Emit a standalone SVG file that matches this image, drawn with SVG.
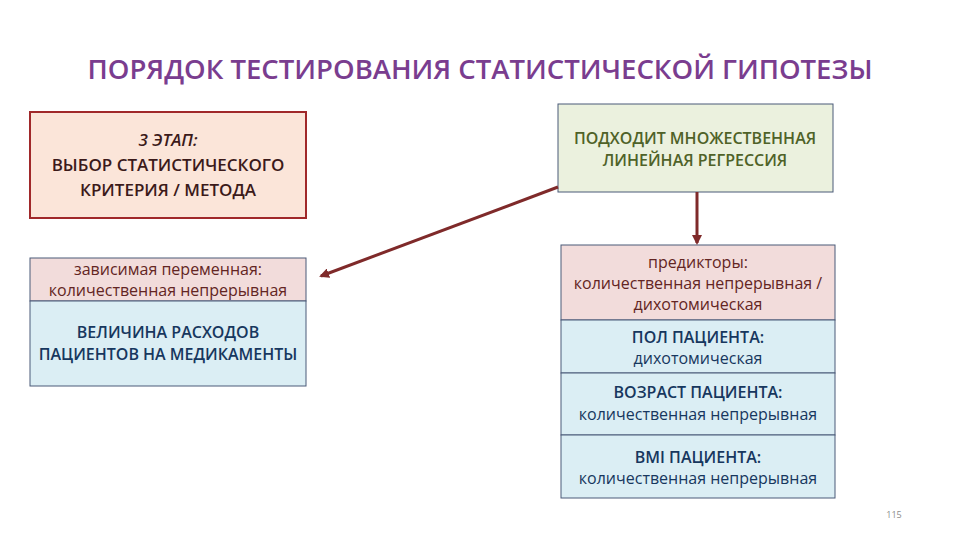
<svg xmlns="http://www.w3.org/2000/svg" width="960" height="540" viewBox="0 0 960 540">
<defs>
<marker id="ah" markerWidth="10" markerHeight="10" refX="8" refY="5" orient="auto" markerUnits="userSpaceOnUse"><path d="M0,0 L10,5 L0,10 z" fill="#7f2a2a"/></marker>
<style>
text{font-family:"Open Sans","Liberation Sans",sans-serif;text-anchor:middle}
.t{font-size:27.5px;font-weight:600;fill:#7a3d8f}
.b{font-size:16px;font-weight:600}
.s{font-size:17px}
.n{font-size:16px}
.br{fill:#3b1a1a}
.rd{fill:#632523}
.nv{fill:#17375e}
.ol{fill:#4f6228}
.pk{fill:#f2dcdb;stroke:#4a5a78;stroke-width:1}
.bl{fill:#dbeef4;stroke:#4a5a78;stroke-width:1}
.cn{stroke:#7f2a2a;stroke-width:3;fill:none}
</style>
</defs>
<rect width="960" height="540" fill="#fff"/>
<text class="t" x="480" y="79">ПОРЯДОК ТЕСТИРОВАНИЯ СТАТИСТИЧЕСКОЙ ГИПОТЕЗЫ</text>
<g id="stage3">
<rect x="30" y="112" width="276" height="106" fill="#fbe5d9" stroke="#a0282a" stroke-width="2"/>
<text class="b s br" x="168" y="146" font-style="italic">3 ЭТАП:</text>
<text class="b s br" x="168" y="171">ВЫБОР СТАТИСТИЧЕСКОГО</text>
<text class="b s br" x="168" y="196">КРИТЕРИЯ / МЕТОДА</text>
</g>
<g id="dependent">
<rect class="pk" x="30" y="258" width="276" height="43"/>
<rect class="bl" x="30" y="301" width="276" height="85"/>
<text class="n rd" x="168" y="275">зависимая переменная:</text>
<text class="n rd" x="168" y="296">количественная непрерывная</text>
<text class="b nv" x="168" y="338">ВЕЛИЧИНА РАСХОДОВ</text>
<text class="b nv" x="168" y="360">ПАЦИЕНТОВ НА МЕДИКАМЕНТЫ</text>
</g>
<g id="method">
<rect x="558" y="104" width="275" height="88" fill="#ebf1de" stroke="#4a5a78" stroke-width="1"/>
<text class="b ol" x="695" y="144">ПОДХОДИТ МНОЖЕСТВЕННАЯ</text>
<text class="b ol" x="695" y="166">ЛИНЕЙНАЯ РЕГРЕССИЯ</text>
</g>
<g id="predictors">
<rect class="pk" x="561" y="245" width="274" height="75"/>
<text class="n rd" x="698" y="268">предикторы:</text>
<text class="n rd" x="698" y="289">количественная непрерывная /</text>
<text class="n rd" x="698" y="310">дихотомическая</text>
</g>
<g id="sex">
<rect class="bl" x="561" y="320" width="274" height="53"/>
<text class="b nv" x="698" y="343">ПОЛ ПАЦИЕНТА:</text>
<text class="n nv" x="698" y="364">дихотомическая</text>
</g>
<g id="age">
<rect class="bl" x="561" y="373" width="274" height="62"/>
<text class="b nv" x="698" y="398">ВОЗРАСТ ПАЦИЕНТА:</text>
<text class="n nv" x="698" y="420">количественная непрерывная</text>
</g>
<g id="bmi">
<rect class="bl" x="561" y="435" width="274" height="63"/>
<text class="b nv" x="698" y="463">BMI ПАЦИЕНТА:</text>
<text class="n nv" x="698" y="484">количественная непрерывная</text>
</g>
<g id="connectors">
<line class="cn" x1="697" y1="192" x2="697" y2="243" marker-end="url(#ah)"/>
<line class="cn" x1="558" y1="187" x2="321" y2="276" marker-end="url(#ah)"/>
</g>
<text x="894" y="518" font-size="9" fill="#8c8c8c">115</text>
</svg>
